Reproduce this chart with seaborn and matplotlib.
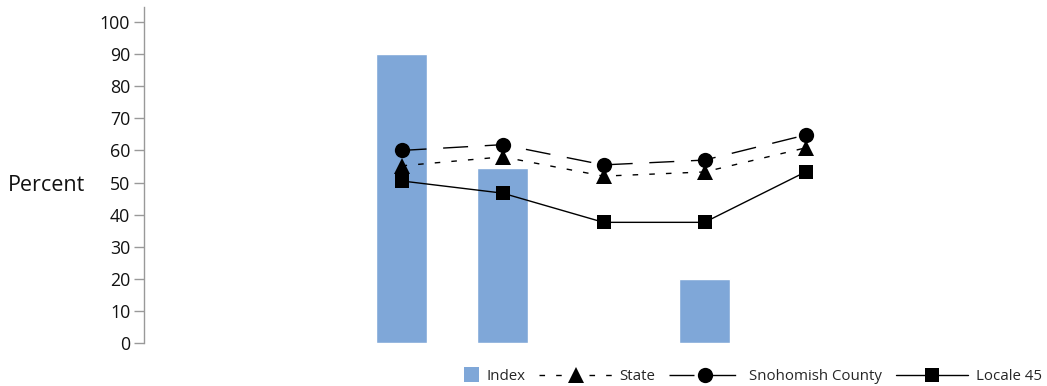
import numpy as np
import pandas as pd
import matplotlib
matplotlib.use("Agg")
import matplotlib.pyplot as plt
import seaborn as sns
from matplotlib.lines import Line2D
from matplotlib.patches import Patch, Rectangle
from matplotlib.legend_handler import HandlerPatch

categories = ["C1", "C2", "C3", "C4", "C5"]
index_vals = [90, 54.5, np.nan, 20, np.nan]
state_vals = [55.2, 58.0, 52.0, 53.3, 60.8]
county_vals = [60.0, 61.8, 55.5, 57.0, 64.8]
locale_vals = [50.5, 46.7, 37.6, 37.6, 53.3]
yticks = list(range(0, 101, 10))

BLUE = "#7FA7D8"

sns.set_theme(style="white")
plt.rcParams['font.family'] = ['Open Sans', 'DejaVu Sans']

fig = plt.figure(figsize=(10.47, 3.86), dpi=100)
ax = fig.add_axes([144/1047, 1-343/386, 712/1047, 336/386])

df = pd.DataFrame({"cat": categories, "Index": index_vals})
sns.barplot(data=df, x="cat", y="Index", order=categories, color=BLUE,
            saturation=1, width=0.5, ax=ax, errorbar=None)

pos = np.arange(len(categories))
STATE_LS = (0, (4, 8))
COUNTY_LS = (0, (18, 12))
sns.lineplot(x=pos, y=state_vals, ax=ax, color="black", lw=1, linestyle=STATE_LS,
             marker="^", markersize=11, markeredgewidth=0, sort=False)
sns.lineplot(x=pos, y=county_vals, ax=ax, color="black", lw=1, linestyle=COUNTY_LS,
             marker="o", markersize=11, markeredgewidth=0, sort=False)
sns.lineplot(x=pos, y=locale_vals, ax=ax, color="black", lw=1, linestyle="-",
             marker="s", markersize=9.5, markeredgewidth=0, sort=False)

ax.set_xlim(-2.55, 4.5)
ax.set_ylim(0, 104.7)
ax.set_yticks(yticks)
ax.set_yticklabels([str(t) for t in yticks], fontsize=12.8, color="#111111")
ax.set_xticks([])
ax.set_xlabel("")
ax.set_ylabel("")
fig.text(8/1047, 1-186/386, "Percent", fontsize=15.5, va="center", ha="left", color="#111111")
ax.tick_params(axis="y", left=True, length=7, width=1, color="#999999", pad=3)
for s in ["top", "right", "bottom"]:
    ax.spines[s].set_visible(False)
ax.spines["left"].set_color("#999999")
ax.spines["left"].set_linewidth(1)


def square_patch(legend, orig_handle, xdescent, ydescent, width, height, fontsize):
    s = 11
    return Rectangle((-xdescent + width - s, -ydescent + (height - s) / 2), s, s)


handles = [
    Patch(facecolor=BLUE, edgecolor="none"),
    Line2D([], [], color="black", lw=1, linestyle=STATE_LS, marker="^", markersize=11, markeredgewidth=0),
    Line2D([], [], color="black", lw=1, linestyle=COUNTY_LS, marker="o", markersize=11, markeredgewidth=0),
    Line2D([], [], color="black", lw=1, linestyle="-", marker="s", markersize=9.5, markeredgewidth=0),
]
labels = ["Index", "State", "Snohomish County", "Locale 45"]
fig.legend(handles, labels, loc="lower right", bbox_to_anchor=(1.008, -0.03), ncol=4,
           frameon=False, fontsize=10.8, handlelength=4.85, handletextpad=0.5, columnspacing=0.9,
           handler_map={Patch: HandlerPatch(patch_func=square_patch)})

fig.savefig("out.png", dpi=100)
